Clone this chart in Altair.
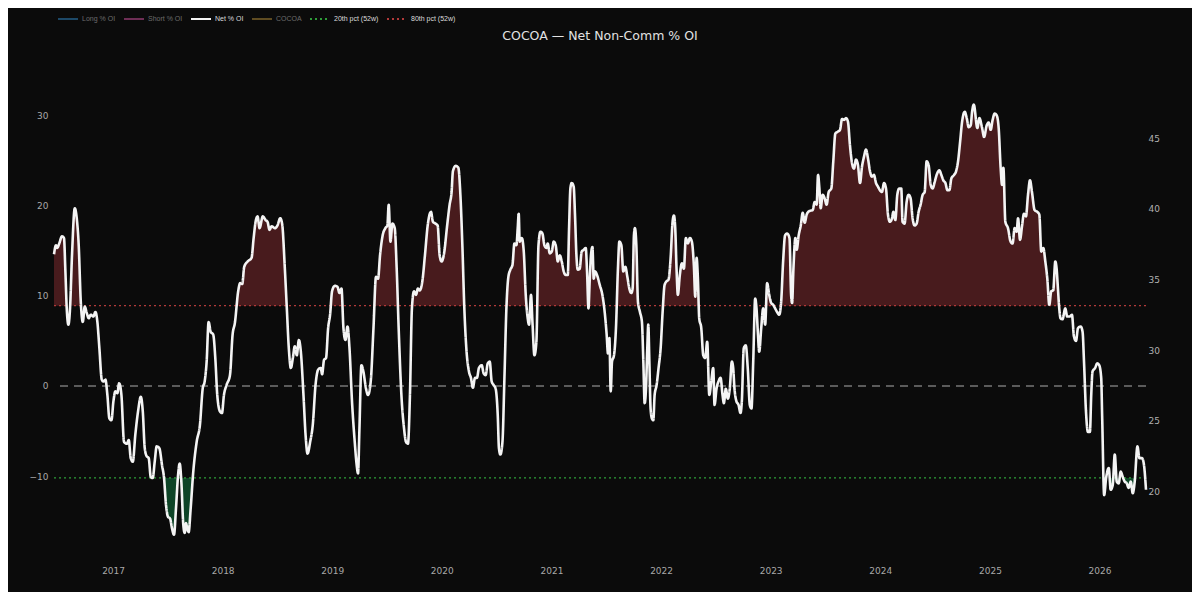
import altair as alt
import pandas as pd
import numpy as np

# ---- data (decimal year, Net % OI) ----
years = [
2016.462,2016.480,2016.492,2016.510,2016.535,2016.553,2016.565,2016.578,2016.593,2016.608,
2016.626,2016.651,2016.669,2016.687,2016.706,2016.724,2016.742,2016.760,2016.778,2016.797,
2016.820,2016.839,2016.857,2016.875,2016.897,2016.912,2016.930,2016.948,2016.966,2016.985,
2017.003,2017.021,2017.039,2017.055,2017.076,2017.100,2017.125,2017.143,2017.161,2017.180,
2017.203,2017.228,2017.253,2017.271,2017.289,2017.307,2017.325,2017.344,2017.362,2017.380,
2017.398,2017.422,2017.447,2017.465,2017.483,2017.501,2017.520,2017.538,2017.556,2017.574,
2017.593,2017.608,2017.623,2017.641,2017.654,2017.665,2017.677,2017.690,2017.708,2017.732,
2017.763,2017.793,2017.818,2017.836,2017.854,2017.872,2017.891,2017.914,2017.933,2017.951,
2017.975,2017.994,2018.012,2018.036,2018.067,2018.091,2018.112,
2018.142,2018.160,2018.179,2018.197,2018.228,2018.264,2018.283,2018.301,2018.319,2018.337,
2018.367,2018.392,2018.410,2018.428,2018.447,2018.477,2018.501,2018.525,2018.543,2018.568,
2018.586,2018.604,2018.623,2018.641,2018.659,2018.677,2018.696,2018.714,2018.738,2018.757,
2018.775,2018.799,2018.823,2018.848,2018.872,2018.896,2018.908,2018.926,2018.944,2018.963,
2018.981,2018.999,2019.024,2019.048,2019.067,2019.085,2019.103,2019.121,2019.140,2019.158,
2019.181,2019.206,2019.224,2019.236,2019.249,2019.267,2019.285,2019.309,2019.327,2019.352,
2019.377,2019.400,2019.419,2019.437,2019.461,2019.486,2019.504,2019.516,2019.532,2019.550,
2019.571,2019.589,2019.607,2019.632,2019.656,2019.674,2019.692,2019.710,2019.728,2019.747,
2019.765,2019.783,
2019.799,2019.823,2019.847,2019.872,2019.902,2019.920,2019.944,2019.963,2019.981,2019.999,
2020.024,2020.047,2020.072,2020.090,2020.102,2020.127,2020.151,2020.170,2020.188,2020.206,
2020.224,2020.248,2020.266,2020.284,2020.303,2020.321,2020.339,2020.364,2020.382,2020.400,
2020.419,2020.437,2020.455,2020.473,2020.491,2020.510,2020.521,2020.534,2020.553,2020.571,
2020.589,2020.607,2020.625,2020.644,2020.662,2020.680,2020.692,2020.701,2020.710,2020.729,
2020.747,2020.765,2020.783,2020.795,2020.813,2020.826,2020.844,2020.862,2020.881,2020.899,
2020.917,2020.935,2020.954,2020.965,2020.984,2021.002,2021.020,2021.038,2021.057,2021.075,
2021.093,2021.111,2021.130,2021.148,2021.160,2021.172,2021.184,2021.202,2021.214,2021.227,
2021.239,2021.257,2021.275,2021.294,2021.312,2021.324,2021.337,2021.348,2021.360,2021.373,
2021.385,2021.397,2021.415,2021.440,2021.464,
2021.485,2021.503,2021.515,2021.528,2021.540,2021.552,2021.570,2021.588,2021.606,2021.619,
2021.637,2021.655,2021.674,2021.692,2021.710,2021.728,2021.740,2021.752,2021.761,2021.774,
2021.789,2021.807,2021.825,2021.838,2021.850,2021.862,2021.874,2021.883,2021.893,2021.904,
2021.916,2021.929,2021.941,2021.959,2021.977,2021.996,2022.014,2022.032,2022.050,2022.068,
2022.087,2022.105,2022.117,2022.129,2022.141,2022.153,2022.171,2022.190,2022.208,2022.226,
2022.244,2022.263,2022.281,2022.299,2022.312,2022.324,2022.336,2022.348,2022.367,2022.385,
2022.403,2022.421,2022.440,2022.458,2022.476,2022.488,2022.506,2022.524,2022.543,2022.561,
2022.573,2022.591,2022.609,2022.627,2022.646,2022.658,2022.670,2022.688,2022.707,2022.725,
2022.737,2022.755,2022.773,2022.791,2022.810,2022.825,2022.841,2022.859,2022.871,2022.883,
2022.896,2022.914,2022.932,2022.950,2022.968,2022.987,2023.005,2023.023,2023.041,2023.059,
2023.078,2023.096,2023.114,2023.132,2023.151,2023.172,
2023.187,2023.196,2023.208,2023.226,2023.238,2023.256,2023.275,2023.293,2023.311,2023.329,
2023.354,2023.384,2023.402,2023.420,2023.433,2023.445,2023.457,2023.475,2023.493,2023.511,
2023.530,2023.554,2023.572,2023.591,2023.615,2023.633,2023.652,2023.670,2023.688,2023.706,
2023.724,2023.743,2023.761,2023.779,2023.797,2023.816,2023.834,2023.852,2023.870,2023.889,
2023.907,2023.925,2023.943,2023.962,2023.980,2023.998,2024.016,2024.035,2024.053,2024.071,
2024.089,2024.108,2024.120,2024.138,2024.156,2024.174,2024.192,2024.204,2024.222,2024.241,
2024.259,2024.277,2024.295,2024.314,2024.332,2024.350,2024.368,2024.387,2024.405,2024.423,
2024.441,2024.460,2024.478,2024.496,2024.514,2024.539,2024.557,2024.575,2024.594,2024.612,
2024.630,2024.648,2024.673,2024.691,2024.709,2024.728,2024.746,2024.770,2024.788,2024.806,
2024.824,2024.837,2024.852,
2024.885,2024.903,2024.928,2024.946,2024.970,2024.988,2025.006,2025.024,2025.042,2025.061,
2025.079,2025.097,2025.110,2025.122,2025.140,2025.164,2025.188,2025.206,2025.225,2025.243,
2025.256,2025.274,2025.292,2025.310,2025.328,2025.347,2025.365,2025.383,2025.407,2025.432,
2025.450,2025.468,2025.486,2025.505,2025.523,2025.541,2025.559,2025.577,2025.596,2025.608,
2025.620,2025.632,2025.644,2025.662,2025.687,2025.705,2025.730,2025.748,2025.766,2025.785,
2025.803,2025.827,2025.845,2025.858,2025.876,2025.894,2025.912,2025.924,2025.936,2025.960,
2025.979,2025.997,2026.015,2026.024,2026.042,2026.060,2026.084,2026.102,2026.120,2026.139,
2026.157,2026.175,2026.193,2026.212,2026.230,2026.248,2026.266,2026.285,2026.303,2026.321,
2026.346,2026.364,2026.388,2026.406,2026.424,
]

net = [
14.6,15.6,15.3,15.8,16.6,16.4,13.0,8.6,6.8,8.6,
14.5,19.7,18.6,15.6,9.3,7.1,8.8,8.1,7.5,7.9,
7.7,8.2,7.1,4.2,0.7,0.5,0.7,-1.0,-3.6,-3.8,
-1.7,-0.6,-0.8,0.3,-1.0,-6.2,-6.4,-6.0,-8.0,-8.4,
-5.4,-2.8,-1.2,-2.8,-6.9,-7.8,-8.0,-10.1,-10.2,-8.4,
-6.7,-6.9,-8.8,-10.2,-13.2,-14.5,-14.7,-15.8,-16.5,-13.6,
-9.9,-8.6,-10.6,-15.4,-16.3,-15.2,-15.8,-16.2,-13.6,-9.5,
-6.2,-4.3,-0.3,0.5,2.7,7.1,6.0,5.7,3.1,-1.0,
-2.8,-3.0,-1.0,0.1,1.2,5.7,7.0,
10.5,11.4,11.3,13.2,13.8,14.2,16.4,18.2,18.8,17.5,
18.8,18.4,18.2,17.3,17.7,17.5,17.8,18.6,18.0,13.0,
8.6,4.2,2.0,3.1,4.4,3.4,5.1,3.8,-1.0,-5.4,
-7.5,-6.2,-4.3,0.1,1.8,2.0,1.3,2.9,3.1,6.4,
7.9,10.5,11.1,11.0,10.3,10.8,6.4,5.1,6.6,4.2,
-1.7,-6.2,-8.8,-9.7,-4.7,2.3,1.6,-0.3,-1.0,0.5,
6.4,12.1,11.9,14.5,16.7,17.5,17.8,20.1,16.0,18.0,
17.5,13.0,6.4,-1.0,-4.7,-6.2,-6.4,-1.0,8.6,10.5,
10.1,10.8,
10.6,11.6,14.5,17.8,19.3,18.2,18.0,17.8,14.5,13.8,
14.9,17.5,20.1,21.5,23.8,24.4,24.2,21.2,15.6,8.6,
4.2,1.6,0.9,-0.2,0.9,0.9,2.0,2.3,1.4,1.2,
2.5,2.7,0.5,0.1,-0.3,-3.2,-6.9,-7.6,-6.2,0.9,
8.6,12.1,12.9,13.4,15.8,15.6,17.5,19.1,16.0,16.4,
14.9,10.1,7.5,6.8,10.1,7.1,3.4,4.9,15.6,17.1,
16.9,15.6,15.3,15.8,14.7,14.9,16.0,15.6,13.8,14.5,
13.8,12.7,12.3,12.3,17.5,21.9,22.5,22.1,19.0,14.5,
12.9,13.0,14.9,15.1,15.3,12.7,8.6,11.6,14.5,15.4,
11.9,12.7,12.3,11.2,10.1,
8.2,5.7,3.6,5.3,-0.6,2.7,3.4,6.4,13.0,16.0,
15.6,12.7,13.2,12.1,10.8,10.3,10.8,16.7,17.5,15.6,
9.3,8.2,7.1,2.7,-1.9,-0.3,4.2,6.8,2.7,-2.5,
-3.6,-3.8,-1.0,0.1,2.0,4.2,8.2,11.2,11.6,11.8,
14.2,18.2,18.9,17.5,13.0,10.1,12.3,13.6,13.0,16.4,
15.8,16.4,16.0,13.4,9.9,14.2,11.9,7.5,6.4,3.4,
3.1,4.9,-1.0,0.5,2.0,-2.1,-0.3,0.5,0.9,-1.0,
-1.9,-0.3,-1.4,-0.3,2.7,2.0,-0.3,-1.7,-2.1,-3.0,
-1.7,4.2,4.5,2.0,-2.1,-2.5,2.7,9.7,8.6,6.0,
3.8,6.4,8.6,6.8,11.4,10.1,9.2,9.0,8.6,8.2,
7.9,9.3,13.8,16.7,16.9,16.4,
10.1,9.2,13.0,16.4,15.1,16.7,17.8,19.2,18.1,19.0,
19.4,19.5,20.4,20.1,23.4,21.9,19.7,21.2,20.8,20.1,
21.5,21.9,24.9,28.0,28.2,28.4,29.6,29.5,29.7,29.3,
26.7,24.7,24.1,25.1,24.5,22.5,24.3,25.4,26.2,25.2,
23.8,23.2,23.4,22.5,22.1,21.7,21.5,22.5,21.9,19.0,
18.2,18.6,19.3,18.4,21.2,21.9,21.9,18.2,18.0,20.4,
21.2,20.8,18.6,17.8,18.0,19.3,20.1,21.2,21.5,24.9,
24.5,22.3,21.9,22.6,23.4,23.9,23.4,22.8,22.5,21.7,
21.7,23.0,23.4,23.8,24.9,27.1,29.3,30.4,29.7,28.7,
28.9,30.4,31.2,
28.6,29.7,28.6,27.6,28.9,29.2,28.4,29.5,30.2,30.0,
28.6,24.2,22.3,24.2,18.2,17.5,16.0,15.8,17.5,17.1,
18.6,16.2,17.7,19.1,18.8,21.2,22.8,21.5,19.5,19.3,
19.0,14.9,15.3,13.8,11.9,9.0,10.5,10.6,13.8,13.0,
10.8,8.6,7.5,7.4,8.6,7.7,7.7,7.9,5.5,5.0,
6.4,6.6,6.0,2.7,-2.8,-5.1,-5.1,-1.0,1.6,2.0,
2.5,2.3,0.9,-3.5,-12.1,-10.2,-9.1,-11.5,-11.0,-7.6,
-10.6,-10.8,-9.5,-10.1,-10.6,-10.8,-11.3,-10.6,-11.9,-10.6,
-6.7,-8.0,-8.0,-8.8,-11.5,
]

P80 = 8.9     # 80th pct (52w)
P20 = -10.2   # 20th pct (52w)

series_names = ["Long % OI", "Short % OI", "Net % OI", "COCOA", "20th pct (52w)", "80th pct (52w)"]
series_colors = ["#1d4968", "#6e2e55", "#f4f4f4", "#5f4c22", "#2f9e3a", "#b23a3a"]
series_dash = [[1, 0], [1, 0], [1, 0], [1, 0], [2, 3], [2, 3]]

left_ticks = [-10, 0, 10, 20, 30]
cocoa_ticks = [20, 25, 30, 35, 40, 45]

TITLE = "COCOA \u2014 Net Non-Comm % OI"


def to_date(y):
    yr = int(np.floor(y))
    start = pd.Timestamp(year=yr, month=1, day=1)
    end = pd.Timestamp(year=yr + 1, month=1, day=1)
    return (start + (end - start) * (y - yr)).floor("h")


dates = [to_date(y) for y in years]
net_arr = np.array(net)

df = pd.DataFrame({
    "date": dates,
    "net": net_arr,
    "red_top": np.maximum(net_arr, P80),
    "p80": P80,
    "green_bot": np.minimum(net_arr, P20),
    "p20": P20,
})

lines_net = pd.DataFrame({"date": dates, "value": net_arr, "series": "Net % OI"})
lines_thr = pd.DataFrame({
    "date": [dates[0], dates[-1], dates[0], dates[-1]],
    "value": [P20, P20, P80, P80],
    "series": ["20th pct (52w)", "20th pct (52w)", "80th pct (52w)", "80th pct (52w)"],
})
right_df = pd.DataFrame({"date": [dates[0]] * len(cocoa_ticks), "cocoa": cocoa_ticks})

FONT = "DejaVu Sans"
LEGEND_FONT = "Liberation Sans"
LEFT_DOMAIN = [-18.74, 36.14]
RIGHT_DOMAIN = [15.52, 50.53]

xenc = alt.X(
    "date:T",
    scale=alt.Scale(nice=False),
    axis=alt.Axis(
        title=None,
        format="%Y",
        values=[alt.DateTime(year=y, month=1, date=1) for y in range(2017, 2027)],
        labelPadding=11,
        labelColor="#a8a8a8",
        labelFontSize=9,
    ),
)
yscale = alt.Scale(domain=LEFT_DOMAIN, nice=False, zero=False)
yaxis = alt.Axis(title=None, values=left_ticks, labelPadding=6, labelColor="#a8a8a8", labelFontSize=9)

red_area = alt.Chart(df).mark_area(color="#481b1d", interpolate="monotone").encode(
    x=xenc,
    y=alt.Y("red_top:Q", scale=yscale, axis=yaxis),
    y2="p80:Q",
)
green_area = alt.Chart(df).mark_area(color="#0e4427", interpolate="monotone").encode(
    x=xenc,
    y=alt.Y("green_bot:Q", scale=yscale, axis=yaxis),
    y2="p20:Q",
)
zero_rule = alt.Chart(df).mark_rule(color="#5c5c5c", strokeDash=[8, 6], strokeWidth=1.5).encode(
    y=alt.datum(0, scale=yscale)
)

color_enc = alt.Color(
    "series:N",
    scale=alt.Scale(domain=series_names, range=series_colors),
    legend=alt.Legend(
        title=None,
        orient="none",
        legendX=3,
        legendY=-52,
        direction="horizontal",
        columns=6,
        symbolType="stroke",
        symbolSize=400,
        symbolStrokeWidth=2,
        labelFontSize=7,
        labelFont=LEGEND_FONT,
        labelOffset=3,
        columnPadding=4,
        labelColor=alt.ExprRef(
            "indexof(['Long % OI','Short % OI','COCOA'], datum.label) >= 0 ? '#6c6c6c' : '#dcdcdc'"
        ),
    ),
)
dash_enc = alt.StrokeDash("series:N", scale=alt.Scale(domain=series_names, range=series_dash), legend=None)

thr_lines = alt.Chart(lines_thr).mark_line(strokeWidth=1.2).encode(
    x=xenc,
    y=alt.Y("value:Q", scale=yscale, axis=yaxis),
    color=color_enc,
    strokeDash=dash_enc,
    detail="series:N",
)
net_line = alt.Chart(lines_net).mark_line(interpolate="monotone", strokeWidth=2.6).encode(
    x=xenc,
    y=alt.Y("value:Q", scale=yscale, axis=yaxis),
    color=color_enc,
    strokeDash=dash_enc,
)

left = alt.layer(red_area, green_area, zero_rule, thr_lines, net_line)

right = alt.Chart(right_df).mark_point(opacity=0).encode(
    x=xenc,
    y=alt.Y(
        "cocoa:Q",
        scale=alt.Scale(domain=RIGHT_DOMAIN, nice=False, zero=False),
        axis=alt.Axis(title=None, orient="right", values=cocoa_ticks, labelPadding=2,
                      labelColor="#b0b0b0", labelFontSize=9),
    ),
)

chart = (
    alt.layer(left, right)
    .resolve_scale(y="independent")
    .properties(
        width=1092,
        height=495,
        title=alt.TitleParams(TITLE, color="#e2e2e2", fontSize=12.5, font=FONT, fontWeight="normal",
                              anchor="middle", frame="group", offset=0, dy=34),
        autosize=alt.AutoSizeParams(type="none"),
        padding={"left": 46, "top": 52, "right": 46, "bottom": 37},
        background="#0b0b0b",
    )
    .configure_view(stroke=None)
    .configure_axis(grid=False, domain=False, ticks=False, labelFont=FONT)
)

chart.save("out.html", embed_options={"renderer": "svg", "actions": False})
